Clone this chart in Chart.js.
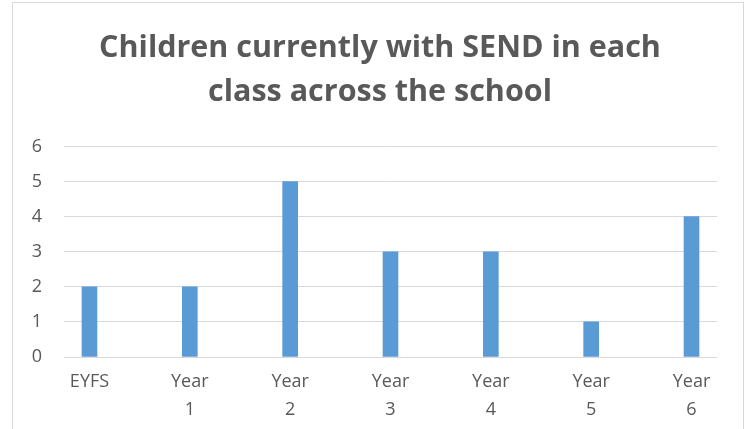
<!DOCTYPE html>
<html>
<head>
<meta charset="utf-8">
<script src="https://cdn.jsdelivr.net/npm/chart.js@4.4.1/dist/chart.umd.min.js"></script>
<style>
	html, body { margin: 0; padding: 0; background: #fff; overflow: hidden; }
	#wrap { position: relative; width: 747px; height: 429px; }
	#frame { position: absolute; left: 12px; top: 2px; width: 730px; height: 460px; border: 1px solid #d9d9d9; }
	canvas { position: absolute; left: 0; top: 0; }
</style>
</head>
<body>
<div id="wrap">
	<div id="frame"></div>
	<canvas id="chart" width="747" height="429"></canvas>
</div>
<script>
const titleLines = ['Children currently with SEND in each', 'class across the school'];
const categories = ['EYFS', 'Year 1', 'Year 2', 'Year 3', 'Year 4', 'Year 5', 'Year 6'];
const values = [2, 2, 5, 3, 3, 1, 4];
const yTicks = [0, 1, 2, 3, 4, 5, 6];

const textColor = '#595959';
const gridColor = '#d9d9d9';
const barColor = '#5b9bd5';
const fontFamily = '"Open Sans", "Liberation Sans", sans-serif';

// Title in the reference is centred on the whole frame, not on the plot.
const titleSpan = {
	id: 'titleSpan',
	afterLayout(chart) {
		if (!chart.titleBlock) return;
		chart.titleBlock.left = 13;
		chart.titleBlock.right = 747;
	},
};

new Chart(document.getElementById('chart'), {
	type: 'bar',
	data: {
		datasets: [
			{
				label: 'SEND',
				data: categories.map((c, i) => ({ x: i, y: values[i] })),
				backgroundColor: barColor,
				barThickness: 15,
			},
		],
	},
	plugins: [titleSpan],
	options: {
		responsive: false,
		animation: false,
		layout: { padding: { left: 0, right: 30, top: 0, bottom: 0 } },
		plugins: {
			legend: { display: false },
			tooltip: { enabled: false },
			title: {
				display: true,
				text: titleLines,
				color: textColor,
				font: { family: fontFamily, size: 30.5, weight: 'bold', lineHeight: 1.45 },
				padding: { top: 26, bottom: 32 },
			},
		},
		scales: {
			x: {
				type: 'linear',
				offset: false,
				min: -0.254,
				max: 6.254,
				afterBuildTicks: (scale) => {
					scale.ticks = categories.map((c, i) => ({ value: i }));
				},
				afterFit: (scale) => {
					scale.height = 72;
				},
				grid: { display: false },
				border: { display: false },
				ticks: {
					color: textColor,
					font: { family: fontFamily, size: 18, lineHeight: 1.6 },
					padding: 2,
					maxRotation: 0,
					autoSkip: false,
					callback: (v) => categories[v].split(' '),
				},
			},
			y: {
				min: 0,
				max: 6,
				afterBuildTicks: (scale) => {
					scale.ticks = yTicks.map((v) => ({ value: v }));
				},
				afterFit: (scale) => {
					scale.width = 64;
				},
				grid: { color: gridColor, lineWidth: 1, drawTicks: false },
				border: { display: false },
				ticks: {
					color: textColor,
					font: { family: fontFamily, size: 18 },
					padding: 22,
				},
			},
		},
	},
});
</script>
</body>
</html>
